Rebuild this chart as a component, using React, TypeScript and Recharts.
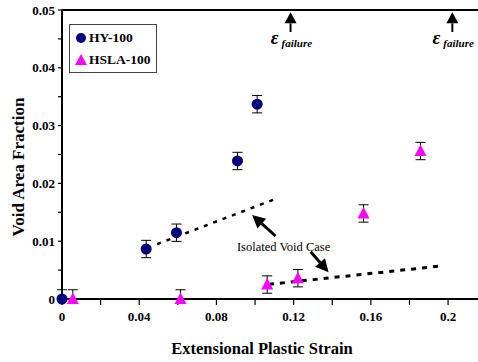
import React from 'react';
import {
  ComposedChart, Scatter, XAxis, YAxis, ErrorBar, ReferenceLine, ReferenceDot, Legend, Label,
} from 'recharts';

// ---- data ----
const hyStrain = [0, 0.0436, 0.0593, 0.0909, 0.1011];
const hyVoid = [0, 0.00865, 0.01147, 0.02388, 0.0337];
const hyErr = [[0, 0.0016], [0.0015, 0.0015], [0.0015, 0.0015], [0.0015, 0.0015], [0.0015, 0.0015]];

const hslaStrain = [0.0056, 0.0614, 0.1063, 0.1222, 0.1562, 0.1857];
const hslaVoid = [0, 0, 0.0025, 0.0036, 0.0148, 0.0256];
const hslaErr = [[0, 0.0016], [0, 0.0016], [0.0015, 0.0015], [0.0015, 0.0015], [0.0015, 0.0015], [0.0015, 0.0015]];

const iso1Strain = [0.0493, 0.1101];
const iso1Void = [0.0095, 0.01725];
const iso2Strain = [0.1072, 0.1961];
const iso2Void = [0.00254, 0.0057];

const xTicks = [0, 0.02, 0.04, 0.06, 0.08, 0.1, 0.12, 0.14, 0.16, 0.18, 0.2];
const xLabels = ['0', '', '0.04', '', '0.08', '', '0.12', '', '0.16', '', '0.2'];
const yTicks = [0, 0.005, 0.01, 0.015, 0.02, 0.025, 0.03, 0.035, 0.04, 0.045, 0.05];
const yLabels = ['0', '', '0.01', '', '0.02', '', '0.03', '', '0.04', '', '0.05'];

// annotation arrows: [tailX, tailY, headX, headY]
const isoArrows = [
  [0.1106, 0.0109, 0.0985, 0.01453],
  [0.1288, 0.00818, 0.1381, 0.00462],
];
const failureStrain = [0.1184, 0.2022];
const failureArrowY = [0.0462, 0.0496];
const failureLabelY = 0.0447;
const isoLabelPos = [0.1148, 0.00905];
const legendNames = ['HY-100', 'HSLA-100'];

const hyData = hyStrain.map((x, i) => ({ x, y: hyVoid[i], err: hyErr[i] }));
const hslaData = hslaStrain.map((x, i) => ({ x, y: hslaVoid[i], err: hslaErr[i] }));
const iso1Data = iso1Strain.map((x, i) => ({ x, y: iso1Void[i] }));
const iso2Data = iso2Strain.map((x, i) => ({ x, y: iso2Void[i] }));

const SERIF = 'Liberation Serif, Times New Roman, serif';
const NAVY = '#000080';
const MAGENTA = '#FF00FF';

const Circle = (p: any) => <circle cx={p.cx} cy={p.cy} r={5.5} fill={NAVY} />;
const Tri = (p: any) => (
  <polygon points={`${p.cx},${p.cy - 6.5} ${p.cx - 6},${p.cy + 5} ${p.cx + 6},${p.cy + 5}`} fill={MAGENTA} />
);
const NoShape = () => null;

const makeArrow = (headLen: number, headW: number, sw: number) => (p: any) => {
  const { x1, y1, x2, y2 } = p;
  const dx = x2 - x1, dy = y2 - y1;
  const len = Math.sqrt(dx * dx + dy * dy) || 1;
  const ux = dx / len, uy = dy / len;
  const bx = x2 - ux * headLen, by = y2 - uy * headLen;
  const px = -uy, py = ux;
  return (
    <g>
      <line x1={x1} y1={y1} x2={bx} y2={by} stroke="#000" strokeWidth={sw} />
      <polygon
        points={`${x2},${y2} ${bx + px * headW / 2},${by + py * headW / 2} ${bx - px * headW / 2},${by - py * headW / 2}`}
        fill="#000"
      />
    </g>
  );
};

const XTick = (p: any) => {
  const idx = xTicks.indexOf(p.payload.value);
  return (
    <text x={p.x} y={p.y + 14} textAnchor="middle" style={{ fontFamily: SERIF }} fontWeight="bold" fontSize={13} fill="#000">
      {xLabels[idx]}
    </text>
  );
};
const YTick = (p: any) => {
  const idx = yTicks.indexOf(p.payload.value);
  return (
    <text x={p.x - 1} y={p.y + 4.5} textAnchor="end" style={{ fontFamily: SERIF }} fontWeight="bold" fontSize={13} fill="#000">
      {yLabels[idx]}
    </text>
  );
};

const LegendBox = () => (
  <div style={{ border: '1px solid #444', background: '#fff', padding: '2px 3px 1px 5px', fontFamily: SERIF, fontWeight: 'bold', fontSize: 13.5, lineHeight: '22px', width: 78, whiteSpace: 'nowrap', boxSizing: 'content-box' }}>
    <div style={{ display: 'flex', alignItems: 'center' }}>
      <svg width={12} height={12} style={{ marginRight: 2 }}><circle cx={6} cy={6} r={5} fill={NAVY} /></svg>
      {legendNames[0]}
    </div>
    <div style={{ display: 'flex', alignItems: 'center' }}>
      <svg width={12} height={12} style={{ marginRight: 2 }}><polygon points="6,0 0,11 12,11" fill={MAGENTA} /></svg>
      {legendNames[1]}
    </div>
  </div>
);

const FailureLabel = (p: any) => {
  const { cx, cy } = p;
  return (
    <g style={{ fontFamily: SERIF }} fontWeight="bold" fontStyle="italic" fill="#000">
      <text x={cx - 16} y={cy + 3} fontSize={19} textAnchor="middle">ε</text>
      <text x={cx - 9} y={cy + 6} fontSize={11}>failure</text>
    </g>
  );
};

const IsoLabel = (p: any) => (
  <text x={p.cx} y={p.cy + 4} textAnchor="middle" style={{ fontFamily: SERIF }} fontSize={12.5} fill="#000">
    Isolated Void Case
  </text>
);

export default function App() {
  return (
    <div style={{ position: 'absolute', left: 0, top: 0, width: 478, height: 362, background: '#fff' }}>
      <ComposedChart width={478} height={362} margin={{ top: 10, right: 0, bottom: 33, left: 12 }}>
        <XAxis
          type="number" dataKey="x" domain={[0, 0.2155]} ticks={xTicks}
          axisLine={{ stroke: '#000', strokeWidth: 2 }} tickLine={{ stroke: '#000', strokeWidth: 1.2 }}
          tickSize={6} height={30} tick={<XTick />}
        >
          <Label
            content={() => (
              <text x={262} y={354} textAnchor="middle" style={{ fontFamily: SERIF }} fontWeight="bold" fontSize={16.5} fill="#000">
                Extensional Plastic Strain
              </text>
            )}
          />
        </XAxis>
        <YAxis
          type="number" dataKey="y" domain={[0, 0.05]} ticks={yTicks}
          axisLine={{ stroke: '#000', strokeWidth: 2 }} tickLine={{ stroke: '#000', strokeWidth: 1.2 }}
          tickSize={4} width={50} tick={<YTick />}
        >
          <Label
            content={() => (
              <text x={24} y={167} transform="rotate(-90 24 167)" textAnchor="middle" style={{ fontFamily: SERIF }} fontWeight="bold" fontSize={17} fill="#000">
                Void Area Fraction
              </text>
            )}
          />
        </YAxis>
        <ReferenceLine y={0.05} stroke="#000" strokeWidth={2} />
        <Legend layout="vertical" align="center" verticalAlign="middle" content={<LegendBox />}
          wrapperStyle={{ position: 'absolute', left: 69, top: 24, width: 88, height: 50 }} />

        <Scatter name="iso1" data={iso1Data} shape={NoShape} isAnimationActive={false} legendType="none"
          line={{ stroke: '#000', strokeWidth: 2.5, strokeDasharray: '4 6' }} />
        <Scatter name="iso2" data={iso2Data} shape={NoShape} isAnimationActive={false} legendType="none"
          line={{ stroke: '#000', strokeWidth: 3, strokeDasharray: '5 6' }} />

        {isoArrows.map((a, i) => (
          <ReferenceLine key={'ia' + i} segment={[{ x: a[0], y: a[1] }, { x: a[2], y: a[3] }]}
            shape={makeArrow(13, 13, 3)} ifOverflow="visible" />
        ))}
        {failureStrain.map((x, i) => (
          <ReferenceLine key={'fa' + i} segment={[{ x, y: failureArrowY[0] }, { x, y: failureArrowY[1] }]}
            shape={makeArrow(11, 12, 2)} ifOverflow="visible" />
        ))}
        {failureStrain.map((x, i) => (
          <ReferenceDot key={'fl' + i} x={x} y={failureLabelY} r={0} shape={FailureLabel} ifOverflow="visible" />
        ))}
        <ReferenceDot x={isoLabelPos[0]} y={isoLabelPos[1]} r={0} shape={IsoLabel} ifOverflow="visible" />

        <Scatter name="HY-100" data={hyData} shape={Circle} isAnimationActive={false}>
          <ErrorBar dataKey="err" direction="y" width={5} stroke="#000" strokeWidth={1} />
        </Scatter>
        <Scatter name="HSLA-100" data={hslaData} shape={Tri} isAnimationActive={false}>
          <ErrorBar dataKey="err" direction="y" width={5} stroke="#000" strokeWidth={1} />
        </Scatter>
      </ComposedChart>
    </div>
  );
}
